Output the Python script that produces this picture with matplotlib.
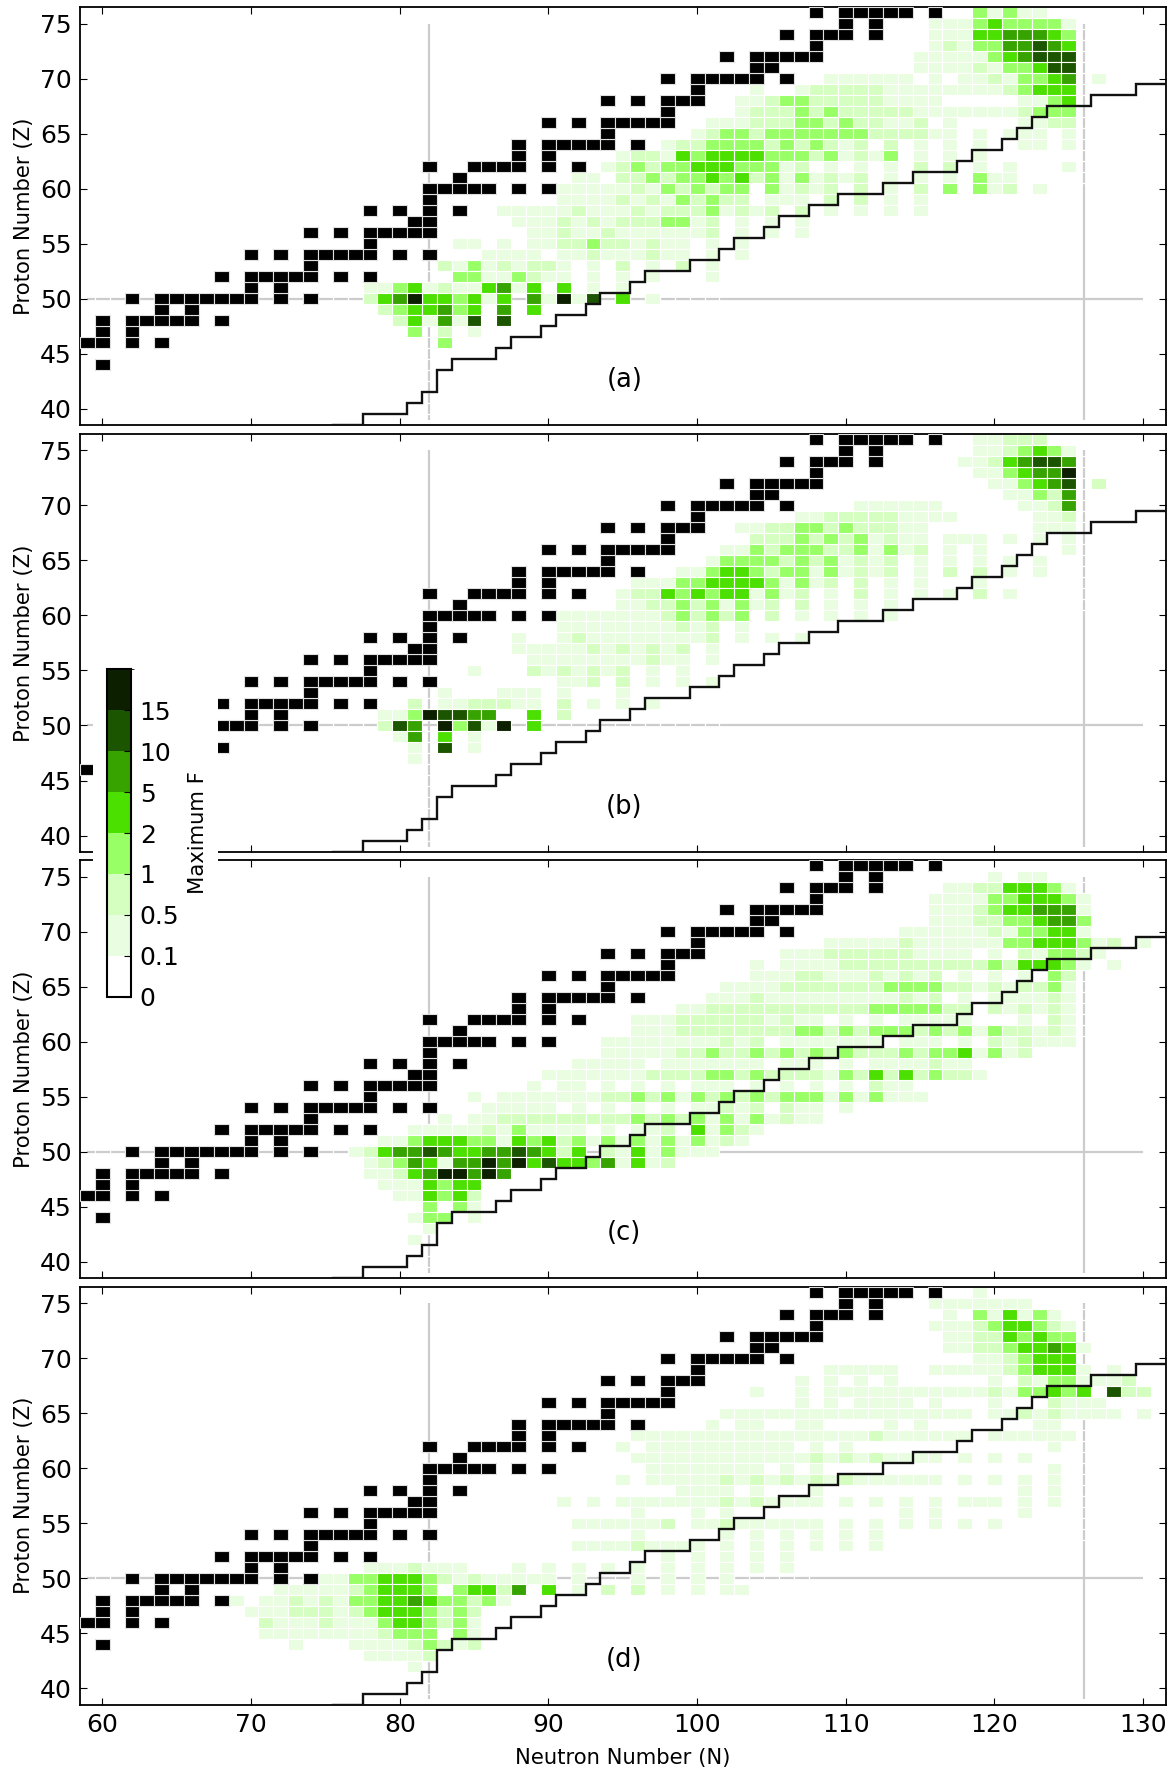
import matplotlib
matplotlib.use("Agg")
import matplotlib.pyplot as plt
import numpy as np
from matplotlib.colors import ListedColormap, BoundaryNorm
from matplotlib.cm import ScalarMappable

# colour bins of maximum F, 0 = nothing drawn
level_labels = ["0", "0.1", "0.5", "1", "2", "5", "10", "15"]
level_colors = ["#ffffff", "#e9fde0", "#d5ffc0", "#99ff66", "#4ce000", "#36a300", "#1c5500", "#0c2000"]

panel_names = ["(a)", "(b)", "(c)", "(d)"]
x_ticks = [60, 70, 80, 90, 100, 110, 120, 130]
y_ticks = [40, 45, 50, 55, 60, 65, 70, 75]

# stable nuclei: Z, neutron numbers
stable_rows = [
    (44, [60]),
    (46, [59, 60, 62, 64]),
    (47, [60, 62]),
    (48, [60, 62, 63, 64, 65, 66, 68]),
    (49, [64, 66]),
    (50, [62, 64, 65, 66, 67, 68, 69, 70, 72, 74]),
    (51, [70, 72]),
    (52, [68, 70, 71, 72, 73, 74, 76, 78]),
    (53, [74]),
    (54, [70, 72, 74, 75, 76, 77, 78, 80, 82]),
    (55, [78]),
    (56, [74, 76, 78, 79, 80, 81, 82]),
    (57, [81, 82]),
    (58, [78, 80, 82, 84]),
    (59, [82]),
    (60, [82, 83, 84, 85, 86, 88, 90]),
    (61, [84]),
    (62, [82, 85, 86, 87, 88, 90, 92]),
    (63, [88, 90]),
    (64, [88, 90, 91, 92, 93, 94, 96]),
    (65, [94]),
    (66, [90, 92, 94, 95, 96, 97, 98]),
    (67, [98]),
    (68, [94, 96, 98, 99, 100]),
    (69, [100]),
    (70, [98, 100, 101, 102, 103, 104, 106]),
    (71, [104, 105]),
    (72, [102, 104, 105, 106, 107, 108]),
    (73, [108]),
    (74, [106, 108, 109, 110, 112]),
    (75, [110, 112]),
    (76, [108, 110, 111, 112, 113, 114, 116]),
]

# r-process path step line
path_n = [75.5, 77.5, 80.5, 81.5, 82.5, 83.5, 86.5, 87.5, 89.5, 90.5, 92.5, 93.5, 95.5, 96.5, 99.5, 101.5,
          102.5, 104.5, 105.5, 107.5, 109.5, 112.5, 114.5, 117.5, 118.5, 120.5, 121.5, 122.5, 123.5,
          126.5, 129.5, 131.5]
path_z = [38.5, 39.5, 40.5, 41.5, 43.5, 44.5, 45.5, 46.5, 47.5, 48.5, 49.5, 50.5, 51.5, 52.5, 53.5, 54.5,
          55.5, 56.5, 57.5, 58.5, 59.5, 60.5, 61.5, 62.5, 63.5, 64.5, 65.5, 66.5, 67.5,
          68.5, 69.5, 69.5]

# panel rows: Z, first N, one colour bin per N going up from there
panel_a_rows = [
    (76, 119, "31311"),
    (75, 116, "11134 33331"),
    (74, 116, "11144 55543"),
    (73, 116, "12133 55654"),
    (72, 115, "11111 34566 6"),
    (71, 115, "11112 13346 6"),
    (70, 109, "11111 10101 12133 4501"),
    (69, 104, "10012 22221 11111 11234 44"),
    (68, 103, "11233 22222 11110 00001 134"),
    (67, 103, "12223 23222 22111 11112 333"),
    (66, 101, "11122 23323 22112 01000 01122"),
    (65, 100, "12332 33333 33222 21101 01110 1"),
    (64, 98, "12233 33232 32120 20101 01001 101"),
    (63, 95, "12214 34444 33323 12130 10101"),
    (62, 94, "12323 34443 33120 10101 02020 10100 01"),
    (61, 92, "11022 32334 34231 31212 01010 10311"),
    (60, 91, "11111 21323 23303 12120 20102 03031 201"),
    (59, 91, "11112 12132 32201 11020 20101"),
    (58, 87, "11111 21112 12223 12120 20101 0101"),
    (57, 88, "11121 21222 33120 10101"),
    (56, 89, "11211 21111 11201 0101"),
    (55, 84, "11010 11223 22121 10101"),
    (54, 86, "11110 11211 12110 101"),
    (53, 83, "21312 12210 10201 0201"),
    (52, 84, "33113 21101 01010 001"),
    (51, 78, "11341 21145 14040 101"),
    (50, 78, "24574 43414 05171 60401"),
    (49, 79, "23445 34050 4"),
    (48, 80, "24151 606"),
    (47, 81, "30201"),
    (46, 83, "3"),
]

panel_b_rows = [
    (76, 119, "11222"),
    (75, 119, "11234 31"),
    (74, 118, "11245 665"),
    (73, 119, "11345 57"),
    (72, 120, "11345 602"),
    (71, 121, "11325"),
    (70, 111, "11111 10000 01125"),
    (69, 107, "11222 22111 10000 0112"),
    (68, 103, "11223 32322 21100 00000 111"),
    (67, 104, "22232 32312 11011 10101 01"),
    (66, 102, "11323 33223 13120 10100 0001"),
    (65, 101, "13333 23231 21201 01010 101"),
    (64, 99, "11344 32331 31212 01020 20101"),
    (63, 96, "11133 44443 13120 20101 0001"),
    (62, 95, "12243 43441 31201 02010 10102 01"),
    (61, 95, "11223 23131 20201 0101"),
    (60, 91, "11111 11232 32302 01010 101"),
    (59, 91, "11111 11121 201"),
    (58, 88, "10012 11111 11120 10101"),
    (57, 88, "11111 21212 1201"),
    (56, 89, "11111 11121 101"),
    (55, 85, "10002 12121 20101"),
    (54, 91, "11202 01010 1"),
    (53, 83, "10001 11010 001"),
    (52, 81, "20112 22110 20101 01"),
    (51, 79, "11376 65500 402"),
    (50, 79, "26507 36170 4"),
    (49, 80, "15040 1"),
    (48, 81, "10601"),
    (47, 81, "1"),
]

panel_c_rows = [
    (75, 120, "1011"),
    (74, 117, "11224 4431"),
    (73, 116, "11113 34443 1"),
    (72, 116, "11123 44555 1"),
    (71, 116, "11122 33455 3"),
    (70, 114, "11111 12133 441"),
    (69, 109, "11111 21111 11334 44312 01"),
    (68, 106, "11122 22221 11101 02133 21"),
    (67, 104, "10111 12222 22222 23244 43101"),
    (66, 104, "11122 11121 21201 01010 32"),
    (65, 102, "11112 22222 23333 22121 2231"),
    (64, 101, "11121 11111 11121 20101 11121"),
    (63, 99, "11222 22222 22233 33322 02121 21"),
    (62, 96, "11122 22221 21101 01011 11100 01021"),
    (61, 96, "11122 22222 23323 23332 32313 22121"),
    (60, 94, "11111 11121 20111 11110 11101 02121 11"),
    (59, 94, "11111 22322 32323 23222 32334 1312"),
    (58, 92, "11111 01111 11101 11010 11112 11"),
    (57, 90, "11111 11222 23323 22221 32424 23221"),
    (56, 89, "10110 10101 01110 10101 01021 1"),
    (55, 85, "10111 11112 23231 32323 23331 31311 1"),
    (54, 86, "11111 01010 10101 12120 21101"),
    (53, 83, "10112 22222 22232 32313 13121 1"),
    (52, 81, "11111 21311 11010 11204 1321"),
    (51, 79, "11344 43314 34231 31313 13121"),
    (50, 77, "12455 65445 56542 40214 13111"),
    (49, 78, "12354 15575 74644 35141 2"),
    (48, 78, "11245 77575"),
    (47, 79, "11143 44"),
    (46, 80, "11434 2"),
    (45, 82, "3031"),
    (44, 81, "13301"),
    (43, 82, "1"),
    (42, 81, "1"),
]

panel_d_rows = [
    (76, 119, "1"),
    (75, 116, "11111 11"),
    (74, 117, "10314 131"),
    (73, 116, "11123 44321"),
    (72, 117, "11224 3433"),
    (71, 117, "11223 44541"),
    (70, 119, "11234 44"),
    (69, 109, "11111 00111 11234 44101"),
    (68, 107, "10101 01000 00010 21331 112"),
    (67, 104, "10010 11111 11111 12133 43406 22"),
    (66, 107, "10101 11101 00010 00211 1"),
    (65, 102, "11111 11111 11111 11011 21211 1101"),
    (64, 101, "10110 01100 00101 00000 0011"),
    (63, 96, "11111 11111 11111 12111 11101 11111"),
    (62, 95, "10111 11111 11010 10000 00000 00001"),
    (61, 96, "11111 11111 11212 12111 10101 01"),
    (60, 97, "11111 11101 01000 00000 00000 001"),
    (59, 95, "10111 11212 12121 21111 11010 10101"),
    (58, 99, "11110 10001 00000 00000 00010 1"),
    (57, 91, "10101 11111 12121 11101 01010 10111 0101"),
    (56, 96, "10001 01000 00000 00010 10000 01"),
    (55, 92, "11111 12011 21111 11010 10101 0101"),
    (54, 96, "10000 01010 10101 01"),
    (53, 92, "11112 11110 10101 01010 1"),
    (52, 98, "10101 0101"),
    (51, 78, "11121 11000 10101 01010 10101 0101"),
    (50, 75, "11334 44321 21111 10100 01010 101"),
    (49, 72, "11111 23444 30344 25040 10202 01010 11"),
    (48, 69, "10112 12133 44543 3231"),
    (47, 70, "11122 21234 44323 2"),
    (46, 71, "21112 11134 43231"),
    (45, 71, "11111 11123 33031"),
    (44, 73, "10001 11123 212"),
    (43, 78, "11112"),
    (42, 81, "1"),
]

panel_rows = [panel_a_rows, panel_b_rows, panel_c_rows, panel_d_rows]
# how far the white cell grid cuts the grey guide lines
z50_cut_end = [102, 102, 102, 108]
n126_cut_start = [60, 60, 60, 53]

W, H = 1173.0, 1771.0
panel_tops = [7.3, 434.0, 860.3, 1286.7]
panel_h = 418.0
left, right = 80.0, 1165.5


def draw_panel(ax, rows, name, cut_end, cut_start):
    # guide lines at the magic numbers
    ax.hlines(50, 59, 130, color="#cccccc", lw=1.6, zorder=1)
    ax.vlines([82, 126], 39, 75, color="#cccccc", lw=1.6, zorder=1)
    ax.vlines(np.arange(59, cut_end) + 0.5, 49.7, 50.3, color="white", lw=0.9, zorder=1.5)
    ax.hlines(np.arange(39, 62) + 0.5, 81.8, 82.2, color="white", lw=0.9, zorder=1.5)
    ax.hlines(np.arange(cut_start, 75) + 0.5, 125.8, 126.2, color="white", lw=0.9, zorder=1.5)

    for level in range(1, 8):
        ns, zs = [], []
        for z, n0, bins in rows:
            bins = bins.replace(" ", "")
            for i, b in enumerate(bins):
                if int(b) == level:
                    ns.append(n0 + i)
                    zs.append(z)
        if ns:
            ax.bar(ns, 1, width=1, bottom=np.array(zs) - 0.5, color=level_colors[level],
                   edgecolor="white", linewidth=0.8, zorder=2)

    for z, ns in stable_rows:
        ax.bar(ns, 1, width=1, bottom=z - 0.5, color="black", edgecolor="#e0e0e0", linewidth=0.8, zorder=3)

    ax.plot(path_n, path_z, drawstyle="steps-post", color="#111111", lw=1.7, zorder=4, solid_joinstyle="miter")
    ax.text(95.1, 42.6, name, fontsize=18.5, ha="center", va="center", zorder=5)

    ax.set_xlim(58.5, 131.5)
    ax.set_ylim(38.5, 76.5)
    ax.set_xticks(x_ticks)
    ax.set_yticks(y_ticks)
    ax.tick_params(direction="in", length=5, width=0.8, top=True, right=True, labelsize=18, pad=6)
    ax.set_ylabel("Proton Number (Z)", fontsize=15.2, labelpad=4)
    for s in ax.spines.values():
        s.set_linewidth(1.3)


fig = plt.figure(figsize=(W / 100, H / 100), dpi=100)
axes = []
for i in range(4):
    ax = fig.add_axes([left / W, 1 - (panel_tops[i] + panel_h) / H, (right - left) / W, panel_h / H])
    draw_panel(ax, panel_rows[i], panel_names[i], z50_cut_end[i], n126_cut_start[i])
    if i < 3:
        ax.tick_params(labelbottom=False)
    axes.append(ax)
axes[3].set_xlabel("Neutron Number (N)", fontsize=15.2, labelpad=8)

# white box behind the colour bar
box = fig.add_axes([92.5 / W, 1 - 1010 / H, (218 - 92.5) / W, (1010 - 650) / H])
box.set_facecolor("white")
box.set_xticks([])
box.set_yticks([])
for s in box.spines.values():
    s.set_visible(False)

cax = fig.add_axes([106.7 / W, 1 - 996.7 / H, 24.6 / W, 327.4 / H])
cmap = ListedColormap(level_colors)
norm = BoundaryNorm(np.arange(9), 8)
cb = fig.colorbar(ScalarMappable(norm=norm, cmap=cmap), cax=cax, ticks=np.arange(8), spacing="uniform")
cb.ax.set_yticklabels(level_labels)
cb.ax.tick_params(direction="in", length=5, width=0.8, labelsize=18, pad=6)
cb.outline.set_linewidth(1.5)
cb.set_label("Maximum F", fontsize=15.2, labelpad=6)

fig.savefig("out.png", dpi=100)
